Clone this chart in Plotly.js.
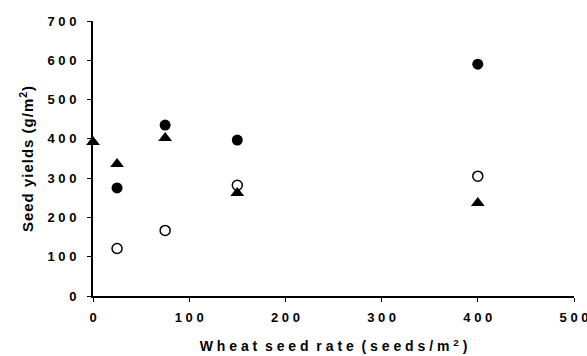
<!DOCTYPE html>
<html><head><meta charset="utf-8">
<script src="https://cdn.plot.ly/plotly-3.0.1.min.js"></script>
<style>body{margin:0;background:#fff}#c{width:587px;height:356px}
.ytitle{letter-spacing:1px}</style>
</head><body><div id="c"></div>
<script>
const xFilled = [25, 75, 150, 400];
const yFilled = [275, 435, 397, 590];
const xOpen = [25, 75, 150, 400];
const yOpen = [121, 167, 282, 305];
const xTri = [0, 25, 75, 150, 400];
const yTri = [392, 336, 402, 262, 237];
const xTicks = [0, 100, 200, 300, 400, 500];
const yTicks = [0, 100, 200, 300, 400, 500, 600, 700];
const spaced = v => String(v).split('').join(' ');

const traces = [
  {x: xFilled, y: yFilled, mode: 'markers', type: 'scatter', cliponaxis: false,
   marker: {symbol: 'circle', size: 11, color: '#000'}},
  {x: xOpen, y: yOpen, mode: 'markers', type: 'scatter', cliponaxis: false,
   marker: {symbol: 'circle-open', size: 10, color: '#000', line: {width: 1.5, color: '#000'}}},
  {x: xTri, y: yTri, mode: 'markers', type: 'scatter', cliponaxis: false,
   marker: {symbol: 'triangle-up', size: 12, color: '#000'}}
];
const fam = 'Liberation Sans, Arial, sans-serif';
const layout = {
  width: 587, height: 356, showlegend: false,
  paper_bgcolor: '#fff', plot_bgcolor: '#fff',
  margin: {l: 93, r: 13, t: 21, b: 60},
  font: {family: fam, size: 12, color: '#000'},
  xaxis: {range: [0, 500], tickvals: xTicks, ticktext: xTicks.map(spaced),
    showgrid: false, zeroline: false, showline: true, linecolor: '#000', linewidth: 2,
    ticks: 'outside', ticklen: 4, tickcolor: '#000', tickwidth: 1, ticklabelstandoff: 4,
    ticklabeloverflow: 'allow',
    tickfont: {family: fam, size: 13, weight: 'bold', color: '#000'},
    title: {text: 'W h e a t  s e e d  r a t e  ( s e e d s / m <sup>2</sup> )', standoff: 18,
      font: {family: fam, size: 14, weight: 'bold', color: '#000'}}},
  yaxis: {range: [0, 700], tickvals: yTicks, ticktext: yTicks.map(spaced),
    showgrid: false, zeroline: false, showline: true, linecolor: '#000', linewidth: 2,
    ticks: 'outside', ticklen: 4, tickcolor: '#000', tickwidth: 1, ticklabelstandoff: 8,
    tickfont: {family: fam, size: 13, weight: 'bold', color: '#000'},
    title: {text: 'Seed yields (g/m<sup>2</sup>)', standoff: 10,
      font: {family: fam, size: 15, weight: 'bold', color: '#000'}}}
};
Plotly.newPlot('c', traces, layout, {displayModeBar: false, staticPlot: true});
</script></body></html>
